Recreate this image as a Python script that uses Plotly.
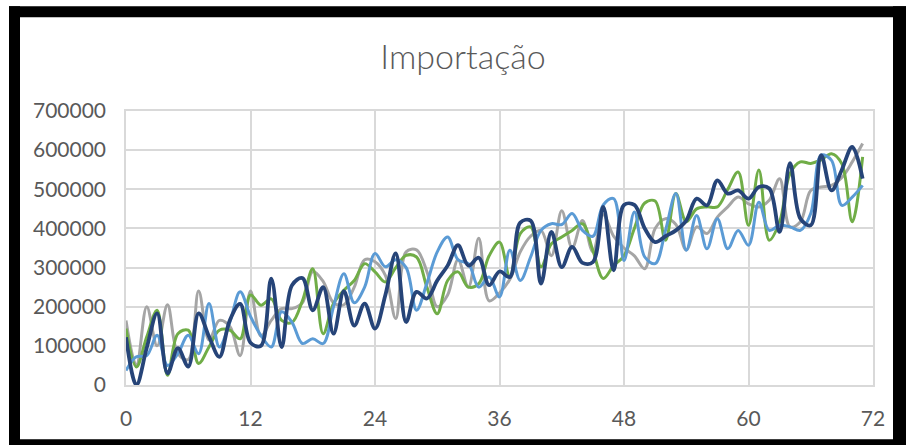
import plotly.graph_objects as go

months = list(range(72))

gray = [165, 50, 200, 100, 205, 80, 65, 240, 115, 165, 150, 75,
        240, 125, 165, 195, 195, 210, 290, 265, 210, 205, 250, 320,
        315, 280, 170, 340, 345, 290, 200, 230, 320, 250, 375, 215,
        235, 270, 340, 380, 395, 330, 445, 350, 420, 340, 435, 380,
        350, 330, 297, 400, 425, 410, 345, 404, 387, 429, 455, 480,
        463, 455, 472, 527, 404, 417, 497, 506, 510, 530, 570, 617]

green = [144, 46, 123, 191, 25, 131, 140, 55, 97, 140, 140, 118,
         230, 204, 220, 165, 160, 215, 297, 131, 208, 242, 267, 310,
         289, 263, 300, 331, 327, 250, 182, 267, 289, 250, 259, 330,
         365, 276, 387, 404, 302, 361, 378, 395, 412, 344, 272, 305,
         330, 400, 465, 470, 370, 489, 417, 450, 455, 455, 500, 544,
         408, 549, 370, 417, 540, 570, 566, 575, 591, 565, 417, 583]

lightblue = [37, 72, 75, 127, 50, 80, 127, 80, 208, 97, 160, 238,
             175, 127, 97, 187, 160, 106, 118, 106, 200, 284, 210, 250,
             336, 302, 320, 300, 191, 260, 340, 378, 320, 310, 250, 276,
             225, 344, 267, 327, 395, 412, 410, 438, 395, 380, 460, 476,
             318, 442, 327, 310, 395, 489, 344, 433, 348, 425, 348, 395,
             357, 467, 395, 408, 404, 395, 438, 587, 574, 459, 480, 510]

darkblue = [122, 0, 95, 183, 30, 94, 47, 183, 124, 72, 165, 207,
            108, 100, 272, 97, 255, 273, 191, 250, 131, 240, 152, 208,
            144, 230, 336, 161, 238, 221, 267, 305, 357, 305, 325, 255,
            290, 276, 415, 420, 259, 391, 301, 353, 312, 314, 455, 293,
            460, 460, 400, 365, 380, 395, 420, 476, 459, 523, 489, 497,
            476, 506, 502, 391, 567, 425, 408, 587, 497, 550, 608, 527]

series = [
    ("Série 1", gray, "#A5A5A5", 3.0),
    ("Série 2", green, "#70AD47", 3.0),
    ("Série 3", lightblue, "#5B9BD5", 3.0),
    ("Série 4", darkblue, "#264478", 3.8),
]

fig = go.Figure()
for name, vals, color, w in series:
    fig.add_trace(go.Scatter(
        x=months, y=[v * 1000 for v in vals], mode="lines", name=name,
        line=dict(color=color, width=w, shape="spline", smoothing=1.0),
    ))

W, H = 906, 445
L, R, T, B = 126, 873, 110.7, 384.7

def px(x):
    return (x - L) / (R - L)

def py(y):
    return (B - y) / (B - T)

shapes = []
for x0, y0, x1, y1 in [(9, 6, 906, 17), (9, 439, 906, 450), (9, 6, 20, 450), (893, 6, 910, 450)]:
    shapes.append(dict(type="rect", xref="paper", yref="paper",
                       x0=px(x0), x1=px(x1), y0=py(y1), y1=py(y0),
                       fillcolor="black", line=dict(width=0), layer="above"))

fig.update_layout(
    width=W, height=H,
    margin=dict(l=L, r=W - R, t=T, b=H - B),
    paper_bgcolor="white", plot_bgcolor="white",
    showlegend=False,
    title=dict(text="Importação", x=463 / W, xanchor="center",
               y=1 - 57 / H, yanchor="middle",
               font=dict(family="Lato", size=34, weight=300, color="#595959")),
    font=dict(family="Lato", size=21, color="#595959"),
    shapes=shapes,
)
fig.update_xaxes(range=[0, 72], tick0=0, dtick=12, showgrid=True,
                 gridcolor="#D9D9D9", gridwidth=1.5, zeroline=False,
                 showline=True, linecolor="#D9D9D9", linewidth=1.5, mirror=True,
                 ticks="", ticklabelstandoff=14,
                 tickfont=dict(family="Lato", size=21, color="#595959"))
fig.update_yaxes(range=[0, 700000], tick0=0, dtick=100000, tickformat="d",
                 showgrid=True, gridcolor="#D9D9D9", gridwidth=1.5, zeroline=False,
                 showline=True, linecolor="#D9D9D9", linewidth=1.5, mirror=True,
                 ticks="", ticklabelstandoff=14,
                 tickfont=dict(family="Lato", size=21, color="#595959"))

fig.write_html("out.html")
